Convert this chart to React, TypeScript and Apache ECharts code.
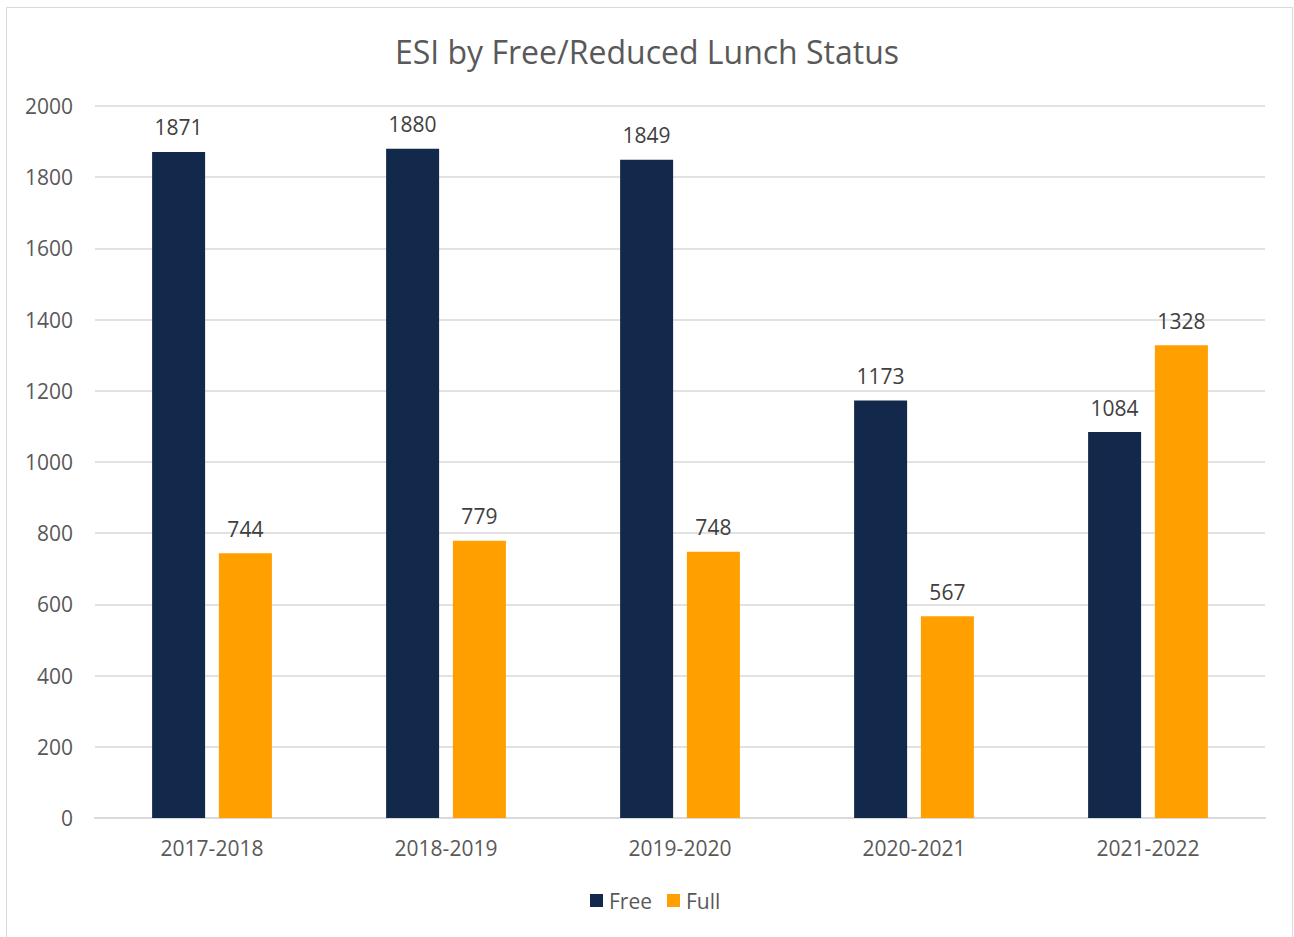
import React, { useEffect, useRef } from "react";
import * as echarts from "echarts";

const categories = ["2017-2018", "2018-2019", "2019-2020", "2020-2021", "2021-2022"];
const freeValues = [1871, 1880, 1849, 1173, 1084];
const fullValues = [744, 779, 748, 567, 1328];
const seriesNames = ["Free", "Full"];

export default function App() {
  const ref = useRef<HTMLDivElement>(null);
  useEffect(() => {
    if (!ref.current) return;
    const chart = echarts.init(ref.current, null, { renderer: "svg" });
    const font = "'Open Sans', 'Noto Sans', sans-serif";
    const labelStyle = {
      show: true,
      position: "top" as const,
      distance: 14,
      color: "#404040",
      fontSize: 21,
      fontFamily: font,
    };
    chart.setOption({
      animation: false,
      backgroundColor: "#ffffff",
      textStyle: { fontFamily: font },
      title: {
        text: "ESI by Free/Reduced Lunch Status",
        left: "center",
        top: 30,
        textStyle: { color: "#595959", fontSize: 32, fontWeight: "normal", fontFamily: font },
      },
      graphic: [
        {
          type: "rect",
          shape: { x: 6.5, y: 7.5, width: 1286, height: 940 },
          style: { fill: "none", stroke: "#d9d9d9", lineWidth: 1 },
          silent: true,
        },
      ],
      legend: {
        data: seriesNames,
        bottom: 21,
        left: 585,
        itemWidth: 13,
        itemHeight: 13,
        itemGap: 15,
        icon: "rect",
        textStyle: { color: "#595959", fontSize: 21, fontFamily: font, padding: [0, 0, 0, 1] },
      },
      grid: { left: 95, right: 29, top: 106, bottom: 119, containLabel: false },
      xAxis: {
        type: "category",
        data: categories,
        axisLine: { lineStyle: { color: "#d9d9d9", width: 2 } },
        axisTick: { show: false },
        axisLabel: { color: "#595959", fontSize: 21, margin: 19, fontFamily: font },
      },
      yAxis: {
        type: "value",
        min: 0,
        max: 2000,
        interval: 200,
        axisLine: { show: false },
        axisTick: { show: false },
        splitLine: { lineStyle: { color: "#d9d9d9", width: 1.5 } },
        axisLabel: {
          color: "#595959",
          fontSize: 21,
          margin: 22,
          fontFamily: font,
          formatter: (v: number) => String(v),
        },
      },
      series: [
        {
          name: seriesNames[0],
          type: "bar",
          data: freeValues,
          barWidth: 53,
          barGap: "26%",
          itemStyle: { color: "#13294b" },
          label: labelStyle,
        },
        {
          name: seriesNames[1],
          type: "bar",
          data: fullValues,
          barWidth: 53,
          barGap: "26%",
          itemStyle: { color: "#ffa000" },
          label: labelStyle,
        },
      ],
    });
    return () => chart.dispose();
  }, []);
  return (
    <div
      ref={ref}
      style={{ position: "fixed", left: 0, top: 0, width: 1294, height: 937 }}
    />
  );
}
